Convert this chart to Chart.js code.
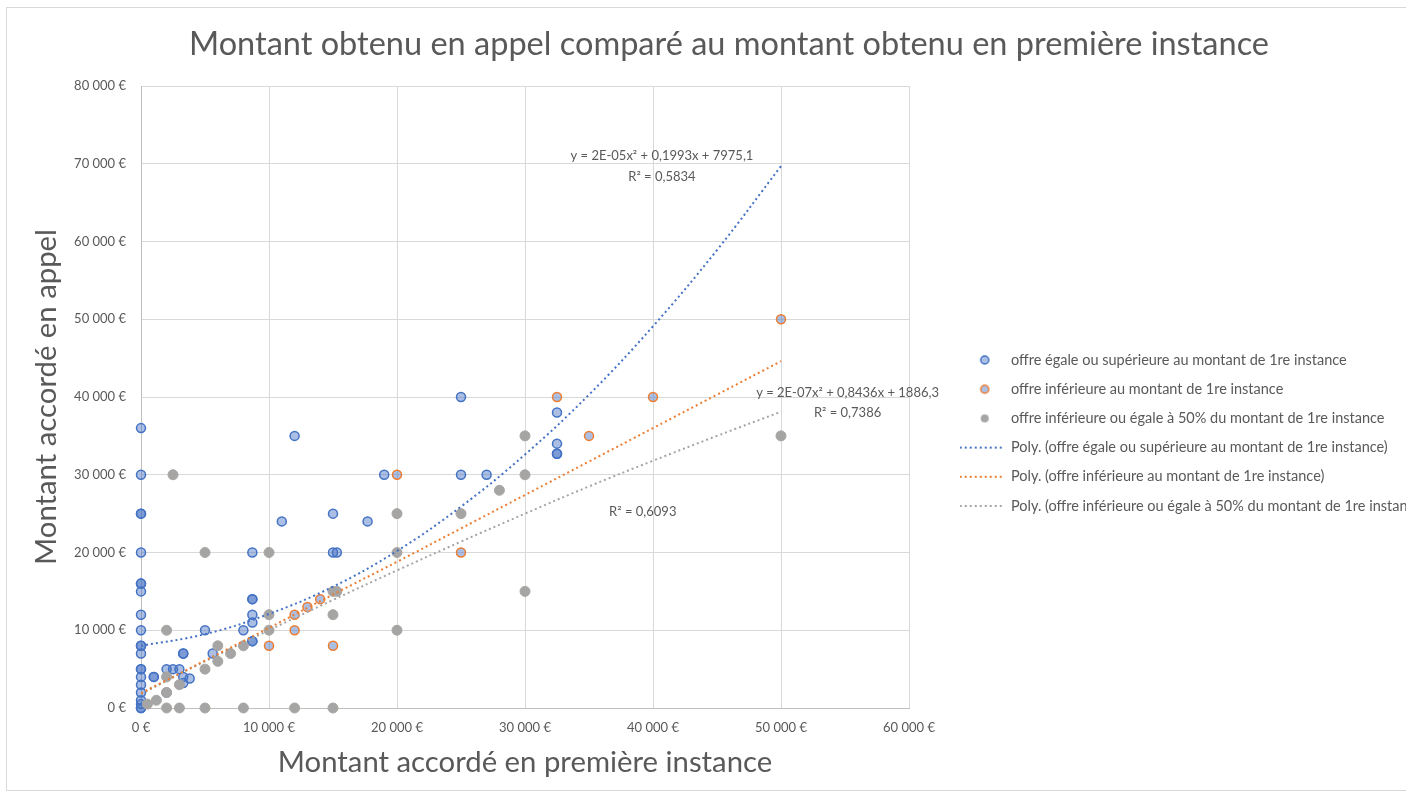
<!DOCTYPE html>
<html lang="fr">
<head>
<meta charset="utf-8">
<title>Montant obtenu en appel</title>
<script src="https://cdn.jsdelivr.net/npm/chart.js@4.4.1/dist/chart.umd.min.js"></script>
<style>
  html, body { margin: 0; padding: 0; background: #fff; overflow: hidden; }
  #frame { position: absolute; left: 6px; top: 7px; width: 1500px; height: 782px; border: 1px solid #d9d9d9; }
  #chart { position: absolute; left: 0; top: 0; }
</style>
</head>
<body>
<div id="frame"></div>
<canvas id="chart" width="1406" height="796"></canvas>
<script>
// series names
const seriesNames = [
    'offre égale ou supérieure au montant de 1re instance',
    'offre inférieure au montant de 1re instance',
    'offre inférieure ou égale à 50% du montant de 1re instance'
];

// offre égale ou supérieure
const blueX = [0, 0, 0, 0, 0, 0, 0, 0, 0, 0, 0, 0, 0, 0, 0, 0, 0, 0, 0, 0, 0, 0,
    1000, 1000, 2000, 2500, 3000, 3300, 3300, 3300, 3300, 3800, 2000,
    5000, 5600, 8000, 8700, 8700, 8700, 8700, 8700, 8700, 8700,
    11000, 12000, 15000, 15000, 15300, 17700, 19000,
    25000, 25000, 27000, 32500, 32500, 32500, 32500];
const blueY = [36000, 30000, 25000, 25000, 20000, 16000, 16000, 15000, 12000, 10000, 8000, 8000, 7000, 5000, 5000, 4000, 3000, 2000, 1000, 500, 0, 0,
    4000, 4000, 5000, 5000, 5000, 7000, 7000, 4000, 3200, 3800, 2000,
    10000, 7000, 10000, 14000, 14000, 12000, 11000, 8600, 8600, 20000,
    24000, 35000, 25000, 20000, 20000, 24000, 30000,
    40000, 30000, 30000, 38000, 34000, 32700, 32700];

// offre inférieure
const orangeX = [10000, 12000, 12000, 13000, 14000, 15000, 20000, 25000, 32500, 35000, 40000, 50000];
const orangeY = [8000, 10000, 12000, 13000, 14000, 8000, 30000, 20000, 40000, 35000, 40000, 50000];

// offre inférieure ou égale à 50%
const grayX = [2500, 5000, 10000, 2000, 10000, 10000, 20000, 20000, 15000, 15300, 15000, 20000,
    6000, 5000, 6000, 7000, 8000, 3000, 2000, 2000, 500, 1200,
    2000, 3000, 5000, 8000, 12000, 15000,
    25000, 28000, 30000, 30000, 30000, 50000];
const grayY = [30000, 20000, 20000, 10000, 12000, 10000, 25000, 20000, 15000, 15000, 12000, 10000,
    8000, 5000, 6000, 7000, 8000, 3000, 2000, 4000, 500, 1000,
    0, 0, 0, 0, 0, 0,
    25000, 28000, 35000, 30000, 15000, 35000];

// courbes de tendance
const trendX = [0, 5000, 10000, 15000, 20000, 25000, 30000, 35000, 40000, 45000, 50000];
const trendBlue = [8000, 9500, 12100, 15600, 20200, 25900, 32600, 40300, 49100, 58900, 69700];
const trendOrange = [1900, 6100, 10300, 14600, 18800, 23100, 27400, 31700, 36000, 40300, 44600];
const trendGray = [1800, 6000, 10000, 13900, 17700, 21400, 25000, 28500, 31800, 35000, 38100];

// equations
const labelTexts = ['y = 2E-05x² + 0,1993x + 7975,1', 'R² = 0,5834',
    'y = 2E-07x² + 0,8436x + 1886,3', 'R² = 0,7386', 'R² = 0,6093'];
const labelX = [40700, 40700, 55200, 55200, 39200];
const labelY = [71000, 68300, 40500, 38000, 25200];

const fontFamily = 'Lato, "Open Sans", sans-serif';
Chart.defaults.font.family = fontFamily;
Chart.defaults.color = '#595959';

const toPoints = (xs, ys) => xs.map((x, i) => ({ x: x, y: ys[i] }));
const euro = v => String(v).replace(/\B(?=(\d{3})+(?!\d))/g, ' ') + ' €';

function makeIcon(kind, stroke, fill) {
    const c = document.createElement('canvas');
    c.width = 44;
    c.height = 12;
    const g = c.getContext('2d');
    if (kind === 'dot') {
        g.beginPath();
        g.arc(25, 6, 4, 0, Math.PI * 2);
        g.fillStyle = fill;
        g.fill();
        if (stroke) {
            g.lineWidth = 1.5;
            g.strokeStyle = stroke;
            g.stroke();
        }
    } else {
        g.setLineDash([2, 3]);
        g.lineWidth = 2;
        g.strokeStyle = stroke;
        g.beginPath();
        g.moveTo(0, 6);
        g.lineTo(44, 6);
        g.stroke();
    }
    return c;
}

const icons = [
    makeIcon('dot', '#4472c4', 'rgba(68,114,196,0.45)'),
    makeIcon('dot', '#ed7d31', 'rgba(68,114,196,0.45)'),
    makeIcon('dot', null, '#a5a5a5'),
    makeIcon('line', '#4472c4'),
    makeIcon('line', '#ed7d31'),
    makeIcon('line', '#a5a5a5')
];

const equations = {
    id: 'equations',
    afterDatasetsDraw(chart) {
        const { ctx, scales: { x, y } } = chart;
        ctx.save();
        ctx.font = '13px ' + fontFamily;
        ctx.fillStyle = '#595959';
        ctx.textAlign = 'center';
        ctx.textBaseline = 'middle';
        labelTexts.forEach((t, i) => {
            ctx.fillText(t, x.getPixelForValue(labelX[i]), y.getPixelForValue(labelY[i]));
        });
        ctx.restore();
    }
};

// the title is centred on the full (wider) excel chart
const shiftTitle = {
    id: 'shiftTitle',
    afterLayout(chart) {
        chart.titleBlock.left += 52;
    }
};

const trendStyle = { showLine: true, pointRadius: 0, borderWidth: 2, borderDash: [2, 3], tension: 0.4, fill: false, order: 0 };

new Chart(document.getElementById('chart'), {
    type: 'scatter',
    data: {
        datasets: [
            { label: seriesNames[0], data: toPoints(blueX, blueY), backgroundColor: 'rgba(68,114,196,0.45)', borderColor: '#4472c4', borderWidth: 1.5, pointRadius: 4.5, clip: false, order: 3 },
            { label: seriesNames[1], data: toPoints(orangeX, orangeY), backgroundColor: 'rgba(68,114,196,0.45)', borderColor: '#ed7d31', borderWidth: 1.5, pointRadius: 4.5, clip: false, order: 2 },
            { label: seriesNames[2], data: toPoints(grayX, grayY), backgroundColor: '#a5a5a5', borderColor: '#aaa5a0', borderWidth: 1, pointRadius: 5, clip: false, order: 1 },
            Object.assign({ label: 'Poly. (' + seriesNames[0] + ')', data: toPoints(trendX, trendBlue), borderColor: '#4472c4' }, trendStyle),
            Object.assign({ label: 'Poly. (' + seriesNames[1] + ')', data: toPoints(trendX, trendOrange), borderColor: '#ed7d31' }, trendStyle),
            Object.assign({ label: 'Poly. (' + seriesNames[2] + ')', data: toPoints(trendX, trendGray), borderColor: '#a5a5a5' }, trendStyle)
        ]
    },
    options: {
        responsive: false,
        animation: false,
        events: [],
        layout: { padding: 0 },
        plugins: {
            title: {
                display: true,
                text: 'Montant obtenu en appel comparé au montant obtenu en première instance',
                color: '#595959',
                font: { size: 32.5, weight: 'normal' },
                padding: { top: 25.5, bottom: 21.5 }
            },
            legend: {
                position: 'right',
                align: 'center',
                maxWidth: 461,
                title: { display: true, text: '', font: { size: 13 }, padding: { top: 54.4, bottom: 0 } },
                labels: {
                    usePointStyle: true,
                    pointStyleWidth: 44,
                    padding: 14.7,
                    color: '#595959',
                    font: { size: 14.5 },
                    generateLabels: chart => chart.data.datasets.map((ds, i) => ({
                        text: ds.label,
                        pointStyle: icons[i],
                        fontColor: '#595959',
                        fillStyle: 'transparent',
                        strokeStyle: 'transparent',
                        lineWidth: 0,
                        hidden: false,
                        datasetIndex: i
                    }))
                }
            },
            tooltip: { enabled: false }
        },
        scales: {
            x: {
                type: 'linear',
                min: 0,
                max: 60000,
                ticks: { stepSize: 10000, padding: 12, font: { size: 13 }, color: '#595959', callback: euro, maxRotation: 0 },
                grid: { color: '#d9d9d9', drawTicks: false },
                border: { color: '#bfbfbf' },
                title: { display: true, text: 'Montant accordé en première instance', color: '#595959', font: { size: 29.3 }, padding: { top: 0, bottom: 15.4 } },
                afterFit: s => { s.height = 88; }
            },
            y: {
                type: 'linear',
                min: 0,
                max: 80000,
                ticks: { stepSize: 10000, padding: 15, font: { size: 13 }, color: '#595959', callback: euro },
                grid: { color: '#d9d9d9', drawTicks: false },
                border: { color: '#bfbfbf' },
                title: { display: true, text: 'Montant accordé en appel', color: '#595959', font: { size: 29.3 }, padding: { top: 29.4, bottom: 0 } },
                afterFit: s => { s.width = 141; }
            },
            // spacer between plot area and legend
            y2: {
                type: 'linear',
                position: 'right',
                ticks: { display: false },
                grid: { display: false },
                border: { display: false },
                afterFit: s => { s.width = 36; }
            }
        }
    },
    plugins: [equations, shiftTitle]
});
</script>
</body>
</html>
